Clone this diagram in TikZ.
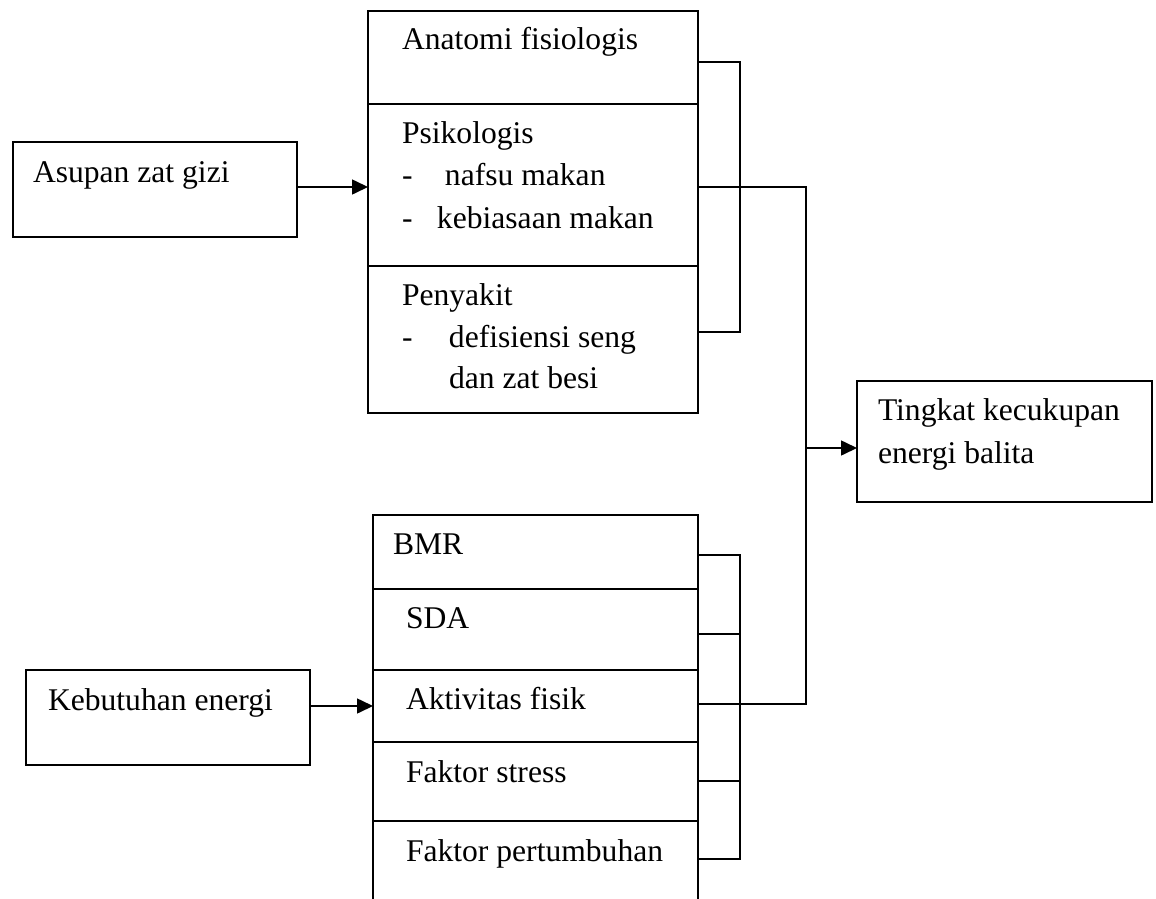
\documentclass[tikz,border=0pt]{standalone}
\usepackage{fontspec}
\setmainfont{Liberation Serif}
\usetikzlibrary{arrows.meta}
\begin{document}
\begin{tikzpicture}[x=1pt,y=-1pt,
  line width=1.8pt,
  box/.style={draw,inner sep=0pt,outer sep=0pt},
  cell/.style={inner sep=0pt,outer sep=0pt},
  txt/.style={anchor=base west,inner sep=0pt,outer sep=0pt,font=\fontsize{31.6}{42}\selectfont},
  arr/.style={-{Triangle[length=16pt,width=15pt]}},
  conn/.style={line width=1.6pt}]
\useasboundingbox (0,0) rectangle (1156,899);
\fill[white] (0,0) rectangle (1156,899);

% left boxes
\node[box,minimum width=284pt,minimum height=95pt] (asupan) at (155,189.5) {};
\node[box,minimum width=284pt,minimum height=95pt] (kebutuhan) at (168,717.5) {};

% top column
\node[box,minimum width=330pt,minimum height=93pt] (anat) at (533,57.5) {};
\node[box,minimum width=330pt,minimum height=162pt] (psi) at (533,185) {};
\node[box,minimum width=330pt,minimum height=147pt] (peny) at (533,339.5) {};

% target
\node[box,minimum width=295pt,minimum height=121pt] (tingkat) at (1004.5,441.5) {};

% bottom column
\node[box,minimum width=325pt,minimum height=74pt] (bmr) at (535.5,552) {};
\node[box,minimum width=325pt,minimum height=81pt] (sda) at (535.5,629.5) {};
\node[box,minimum width=325pt,minimum height=72pt] (akt) at (535.5,706) {};
\node[box,minimum width=325pt,minimum height=79pt] (stress) at (535.5,781.5) {};
\node[cell,minimum width=325pt,minimum height=80pt] (pert) at (535.5,861) {};
\draw (pert.south west) -- (pert.north west) -- (pert.north east) -- (pert.south east);

% texts
\node[txt] (tAsupan) at (33,182) {Asupan zat gizi};
\node[txt] (tKeb) at (48,710) {Kebutuhan energi};
\node[txt] (tAnat) at (402,50) {Anatomi fisiologis};
\node[txt] (tPsi) at (402,143) {Psikologis};
\node[txt] (tPsi1) at (402,185) {\makebox[43pt][l]{-}nafsu makan};
\node[txt] (tPsi2) at (402,228) {\makebox[35pt][l]{-}kebiasaan makan};
\node[txt] (tPeny) at (402,305) {Penyakit};
\node[txt] (tPeny1) at (402,347) {\makebox[47pt][l]{-}defisiensi seng};
\node[txt] (tPeny2) at (449,388) {dan zat besi};
\node[txt] (tTing1) at (878,420) {Tingkat kecukupan};
\node[txt] (tTing2) at (878,463) {energi balita};
\node[txt] (tBmr) at (393,554) {BMR};
\node[txt] (tSda) at (406,628) {SDA};
\node[txt] (tAkt) at (406,709) {Aktivitas fisik};
\node[txt] (tStress) at (406,782) {Faktor stress};
\node[txt] (tPert) at (406,861) {Faktor pertumbuhan};

% helper coordinates
\coordinate (y62) at (0,62);
\coordinate (y187) at (0,187);
\coordinate (y332) at (0,332);
\coordinate (y555) at (0,555);
\coordinate (y634) at (0,634);
\coordinate (y704) at (0,704);
\coordinate (y781) at (0,781);
\coordinate (y859) at (0,859);
\coordinate (bt) at (740,62);
\coordinate (bb) at (740,332);
\coordinate (jt) at (806,187);
\coordinate (jm) at (806,448);
\coordinate (jb) at (806,704);
\coordinate (ct) at (740,555);
\coordinate (cb) at (740,859);

% input arrows
\draw[conn,arr] (asupan.east |- y187) -- (psi.west |- y187);
\draw[conn,arr] (kebutuhan.east |- akt.west) -- (akt.west);

% top bracket
\draw[conn] (anat.east |- y62) -- (bt) -- (bb) -- (peny.east |- y332);
% bottom bracket
\draw[conn] (bmr.east |- y555) -- (ct) -- (cb) -- (pert.east |- y859);
\draw[conn] (sda.east |- y634) -- (ct |- y634);
\draw[conn] (stress.east |- y781) -- (ct |- y781);

% main trunk
\draw[conn] (psi.east |- y187) -- (jt) -- (jb) -- (akt.east |- y704);
\draw[conn,arr] (jm) -- (tingkat.west |- jm);
\end{tikzpicture}
\end{document}
